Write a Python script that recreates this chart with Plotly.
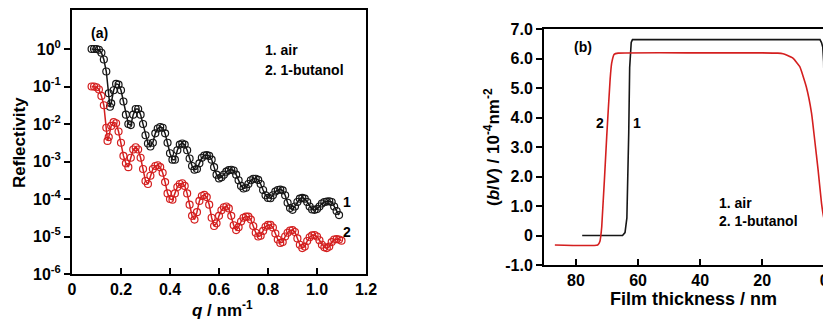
import plotly.graph_objects as go

# ---------------- Panel (a): reflectivity ----------------
air_q = [0.08, 0.09, 0.10, 0.11, 0.12, 0.13, 0.14, 0.15, 0.155, 0.16, 0.17, 0.18, 0.19, 0.20,
         0.21, 0.22, 0.23, 0.24, 0.25, 0.26, 0.27, 0.28, 0.29, 0.30, 0.31, 0.32, 0.33, 0.34,
         0.35, 0.36, 0.37, 0.38, 0.39, 0.40, 0.41, 0.42, 0.43, 0.44, 0.45, 0.46, 0.47, 0.48,
         0.49, 0.50, 0.51, 0.52, 0.53, 0.54, 0.55, 0.56, 0.57, 0.58, 0.59, 0.60, 0.61, 0.62,
         0.63, 0.64, 0.65, 0.66, 0.67, 0.68, 0.69, 0.70, 0.71, 0.72, 0.73, 0.74, 0.75, 0.76,
         0.77, 0.78, 0.79, 0.80, 0.81, 0.82, 0.83, 0.84, 0.85, 0.86, 0.87, 0.88, 0.89, 0.90,
         0.91, 0.92, 0.93, 0.94, 0.95, 0.96, 0.97, 0.98, 0.99, 1.00, 1.01, 1.02, 1.03, 1.04,
         1.05, 1.06, 1.07, 1.08, 1.09]
air_logR = [0.0, 0.0, 0.0, -0.02, -0.10, -0.28, -0.60, -1.18, -1.54, -1.45, -1.10, -0.93, -0.95, -1.10,
            -1.40, -1.75, -2.00, -2.03, -1.75, -1.60, -1.60, -1.75, -2.00, -2.30, -2.52, -2.60, -2.50, -2.25,
            -2.12, -2.08, -2.10, -2.25, -2.50, -2.78, -2.95, -2.95, -2.70, -2.55, -2.52, -2.55, -2.70, -2.92,
            -3.12, -3.22, -3.20, -3.05, -2.90, -2.84, -2.83, -2.85, -2.95, -3.15, -3.35, -3.45, -3.42, -3.35,
            -3.27, -3.23, -3.22, -3.24, -3.35, -3.50, -3.65, -3.72, -3.70, -3.60, -3.50, -3.46, -3.46, -3.49,
            -3.60, -3.76, -3.90, -3.97, -3.98, -3.90, -3.80, -3.76, -3.75, -3.77, -3.90, -4.10, -4.24, -4.29,
            -4.20, -4.08, -3.99, -3.97, -3.99, -4.08, -4.20, -4.28, -4.29, -4.27, -4.20, -4.12, -4.08, -4.07,
            -4.06, -4.08, -4.20, -4.32, -4.43]

but_q = [0.08, 0.09, 0.10, 0.11, 0.12, 0.13, 0.14, 0.145, 0.15, 0.16, 0.17, 0.18, 0.19, 0.20,
         0.21, 0.22, 0.23, 0.24, 0.25, 0.26, 0.27, 0.28, 0.29, 0.30, 0.31, 0.32, 0.33, 0.34,
         0.35, 0.36, 0.37, 0.38, 0.39, 0.40, 0.41, 0.42, 0.43, 0.44, 0.45, 0.46, 0.47, 0.48,
         0.49, 0.50, 0.51, 0.52, 0.53, 0.54, 0.55, 0.56, 0.57, 0.58, 0.59, 0.60, 0.61, 0.62,
         0.63, 0.64, 0.65, 0.66, 0.67, 0.68, 0.69, 0.70, 0.71, 0.72, 0.73, 0.74, 0.75, 0.76,
         0.77, 0.78, 0.79, 0.80, 0.81, 0.82, 0.83, 0.84, 0.85, 0.86, 0.87, 0.88, 0.89, 0.90,
         0.91, 0.92, 0.93, 0.94, 0.95, 0.96, 0.97, 0.98, 0.99, 1.00, 1.01, 1.02, 1.03, 1.04,
         1.05, 1.06, 1.07, 1.08, 1.09, 1.10]
but_logR = [-1.00, -1.00, -1.02, -1.08, -1.25, -1.50, -2.10, -2.45, -2.35, -2.05, -1.95, -1.98, -2.20, -2.50,
            -2.85, -3.05, -3.15, -2.90, -2.68, -2.62, -2.68, -2.90, -3.20, -3.52, -3.60, -3.38, -3.20, -3.12,
            -3.10, -3.15, -3.30, -3.55, -3.85, -4.00, -4.02, -3.85, -3.68, -3.60, -3.58, -3.65, -3.85, -4.15,
            -4.45, -4.55, -4.35, -4.05, -3.92, -3.89, -3.95, -4.15, -4.50, -4.72, -4.65, -4.45, -4.30, -4.22,
            -4.20, -4.25, -4.45, -4.70, -4.83, -4.75, -4.60, -4.50, -4.47, -4.47, -4.55, -4.72, -4.90, -5.00,
            -4.98, -4.85, -4.74, -4.69, -4.69, -4.76, -4.92, -5.08, -5.17, -5.15, -5.00, -4.90, -4.84, -4.83,
            -4.88, -5.05, -5.22, -5.31, -5.27, -5.12, -5.02, -4.97, -4.96, -5.00, -5.10, -5.22, -5.29, -5.31,
            -5.27, -5.15, -5.08, -5.07, -5.08, -5.11]

a_xticks = [0, 0.2, 0.4, 0.6, 0.8, 1.0, 1.2]
a_xticktext = ["0", "0.2", "0.4", "0.6", "0.8", "1.0", "1.2"]
a_yticks = [1e-6, 1e-5, 1e-4, 1e-3, 1e-2, 1e-1, 1e0]
a_yticktext = ["10<sup>-6</sup>", "10<sup>-5</sup>", "10<sup>-4</sup>", "10<sup>-3</sup>",
               "10<sup>-2</sup>", "10<sup>-1</sup>", "10<sup>0</sup>"]

# ---------------- Panel (b): SLD profiles ----------------
air_z = [78.0, 65.0, 64.2, 63.6, 63.0, 62.7, 62.2, 61.8, 1.4, 0.9, 0.5, 0.2, 0.0, -0.2, -2.5]
air_sld = [0.0, 0.0, 0.1, 0.6, 3.5, 5.7, 6.55, 6.65, 6.65, 6.55, 6.4, 5.9, 4.5, 3.55, 3.55]

but_z = [86.8, 73.0, 72.3, 71.7, 70.1, 69.0, 68.5, 67.7, 66.4, 40.0, 20.0, 15.0, 13.3, 12.0,
         10.1, 7.9, 5.8, 4.1, 3.1, 2.0, 0.9, 0.1, -0.45, -0.77, -2.5]
but_sld = [-0.32, -0.32, -0.2, 0.3, 3.35, 5.3, 5.85, 6.15, 6.19, 6.2, 6.2, 6.19, 6.17, 6.12,
           6.02, 5.73, 5.05, 4.15, 3.25, 2.23, 1.1, 0.54, 2.23, 3.53, 3.53]

b_xticks = [0, 20, 40, 60, 80]
b_yticks = [-1, 0, 1, 2, 3, 4, 5, 6, 7]
b_yticktext = ["-1.0", "0", "1.0", "2.0", "3.0", "4.0", "5.0", "6.0", "7.0"]

BLACK = "#161616"
RED = "#d41f1f"
FONT = "Liberation Sans"
# The page body has an 8 px margin, so the figure is drawn 8 px smaller and offset.
OFF = 8
W, H = 831 - OFF, 320 - OFF


def px(x):
    return (x - OFF) / W


def py(y):
    return 1 - (y - OFF) / H


fig = go.Figure()

fig.add_trace(go.Scatter(
    x=air_q, y=[10 ** v for v in air_logR], mode="lines+markers",
    line=dict(color=BLACK, width=1.5),
    marker=dict(symbol="circle-open", size=7, color=BLACK, line=dict(width=1.2)),
    xaxis="x", yaxis="y", showlegend=False))
fig.add_trace(go.Scatter(
    x=but_q, y=[10 ** v for v in but_logR], mode="lines+markers",
    line=dict(color=RED, width=1.5),
    marker=dict(symbol="circle-open", size=7, color=RED, line=dict(width=1.2)),
    xaxis="x", yaxis="y", showlegend=False))

fig.add_trace(go.Scatter(
    x=air_z, y=air_sld, mode="lines", line=dict(color=BLACK, width=1.6),
    xaxis="x2", yaxis="y2", showlegend=False))
fig.add_trace(go.Scatter(
    x=but_z, y=but_sld, mode="lines", line=dict(color=RED, width=1.6, shape="spline", smoothing=0.4),
    xaxis="x2", yaxis="y2", showlegend=False))

tickfont = dict(family=FONT, size=16, color="black", weight="bold")
axis_common = dict(showgrid=False, zeroline=False, showline=True, linecolor="black", linewidth=2,
                   ticks="outside", tickcolor="black", tickwidth=1.5, ticklen=6,
                   tickfont=tickfont, automargin=False)

fig.update_layout(
    width=W, height=H,
    margin=dict(l=0, r=0, t=0, b=0),
    paper_bgcolor="white", plot_bgcolor="white",
    xaxis=dict(axis_common, domain=[px(72), px(366)], range=[0, 1.2],
               tickvals=a_xticks, ticktext=a_xticktext, ticks="inside", mirror=True,
               anchor="y"),
    yaxis=dict(axis_common, domain=[py(274), py(10)], type="log", range=[-6, 1.04],
               tickvals=a_yticks, ticktext=a_yticktext, mirror=True, anchor="x"),
    xaxis2=dict(axis_common, domain=[px(544), 1.0], range=[90.3, -2.16],
                tickvals=b_xticks, ticks="inside", mirror=True, anchor="y2"),
    yaxis2=dict(axis_common, domain=[py(265), py(29.3)], range=[-1, 7],
                tickvals=b_yticks, ticktext=b_yticktext, anchor="x2"),
)

ann_font = dict(family=FONT, size=14, color="black", weight="bold")
title_font = dict(family=FONT, size=17, color="black", weight="bold")
title_font_b = dict(family=FONT, size=18, color="black", weight="bold")


def ann(text, x, y, font=ann_font, xanchor="center", angle=0):
    fig.add_annotation(text=text, x=px(x), y=py(y), xref="paper", yref="paper",
                       xanchor=xanchor, yanchor="middle", showarrow=False,
                       font=font, textangle=angle)


# panel (a) texts
ann("(a)", 99, 33)
ann("1. air", 263, 50, xanchor="left")
ann("2. 1-butanol", 263, 70, xanchor="left")
ann("1", 347, 202)
ann("2", 347, 232)
ann("Reflectivity", 19, 143, font=title_font, angle=-90)
ann("<i>q</i> / nm<sup>-1</sup>", 222, 309, font=title_font)

# panel (b) texts
ann("(b)", 583, 47)
ann("2", 600, 123)
ann("1", 637, 123)
ann("1. air", 717, 203, xanchor="left")
ann("2. 1-butanol", 717, 221, xanchor="left")
ann("(<i>b</i>/<i>V</i>) / 10<sup>-4</sup>nm<sup>-2</sup>", 492, 147, font=title_font, angle=-90)
ann("Film thickness / nm", 693, 299, font=title_font_b)

fig.write_html("out.html")
